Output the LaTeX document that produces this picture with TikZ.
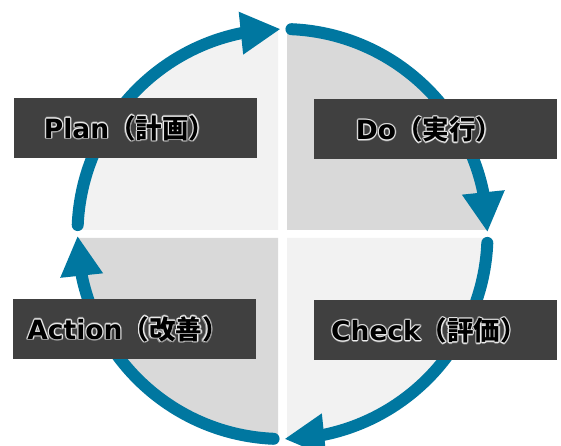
\documentclass[tikz,border=0pt]{standalone}
\usepackage{fontspec}
\newfontfamily\jp{Noto Sans CJK JP}
\newfontfamily\latf{DejaVu Sans}
\usetikzlibrary{arrows.meta,bending}
\definecolor{arcblue}{HTML}{0077A0}
\definecolor{boxgray}{HTML}{404040}
\definecolor{lightq}{HTML}{F2F2F2}
\definecolor{darkq}{HTML}{D9D9D9}
\newcommand\lab[2]{{\latf\bfseries #1}{\jp\bfseries #2}}
\newcommand\halo[1]{%
  \leavevmode\rlap{\textcolor{white!45!boxgray}{%
    \rlap{\kern1.5pt #1}\rlap{\kern-1.5pt #1}\rlap{\raisebox{1.5pt}{#1}}\rlap{\raisebox{-1.5pt}{#1}}%
    \rlap{\kern1.05pt\raisebox{1.05pt}{#1}}\rlap{\kern-1.05pt\raisebox{1.05pt}{#1}}\rlap{\kern1.05pt\raisebox{-1.05pt}{#1}}\rlap{\kern-1.05pt\raisebox{-1.05pt}{#1}}}}%
  \rlap{\textcolor{white!92!black}{%
    \rlap{\kern.8pt #1}\rlap{\kern-.8pt #1}\rlap{\raisebox{.8pt}{#1}}\rlap{\raisebox{-.8pt}{#1}}%
    \rlap{\kern.55pt\raisebox{.55pt}{#1}}\rlap{\kern-.55pt\raisebox{.55pt}{#1}}\rlap{\kern.55pt\raisebox{-.55pt}{#1}}\rlap{\kern-.55pt\raisebox{-.55pt}{#1}}}}%
  \textcolor{black}{#1}}
\tikzset{
  cyclearc/.style={draw=arcblue, line width=12pt, line cap=round,
    -{Triangle[length=40pt,width=40pt,flex]}},
  labelbox/.style={fill=boxgray, minimum width=243pt, minimum height=60pt, inner sep=0pt},
  labeltext/.style={font=\fontsize{26.5pt}{30pt}\selectfont, inner sep=0pt, xshift=-6pt}
}
\begin{document}
\begin{tikzpicture}[x=1pt,y=1pt]
\useasboundingbox (0,0) rectangle (561,446);
\fill[white] (0,0) rectangle (561,446);
\coordinate (c) at (282.5,212);
% quadrants
\fill[lightq] (278,216) -- ++(180:201) arc[start angle=180,end angle=90,radius=201] -- cycle;
\fill[darkq] (287,216) -- ++(90:201) arc[start angle=90,end angle=0,radius=201] -- cycle;
\fill[lightq] (287,208) -- ++(0:201) arc[start angle=0,end angle=-90,radius=201] -- cycle;
\fill[darkq] (278,208) -- ++(-90:201) arc[start angle=-90,end angle=-180,radius=201] -- cycle;
% arcs
\draw[cyclearc] ([shift={(177.5:205)}]c) arc[start angle=177.5,end angle=90.5,radius=205];
\draw[cyclearc] ([shift={(87.5:205)}]c) arc[start angle=87.5,end angle=0.5,radius=205];
\draw[cyclearc] ([shift={(-2.5:205)}]c) arc[start angle=-2.5,end angle=-89.5,radius=205];
\draw[cyclearc] ([shift={(-92.5:205)}]c) arc[start angle=-92.5,end angle=-179.5,radius=205];
% labels
\node[labelbox] (plan) at (135.5,318) {};
\node[labelbox] (do) at (435,316.5) {};
\node[labelbox] (action) at (134,117) {};
\node[labelbox] (check) at (435,115.5) {};
\node[labeltext] (plant) at (plan) {\halo{\lab{Plan}{（計画）}}};
\node[labeltext] (dot) at (do) {\halo{\lab{Do}{（実行）}}};
\node[labeltext] (actiont) at (action) {\halo{\lab{Action}{（改善）}}};
\node[labeltext] (checkt) at (check) {\halo{\lab{Check}{（評価）}}};
\end{tikzpicture}
\end{document}
